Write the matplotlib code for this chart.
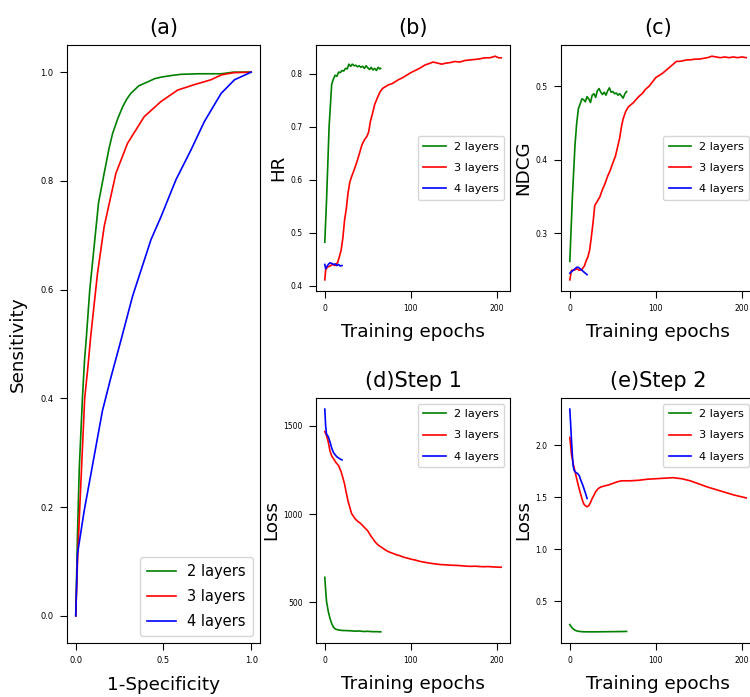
import numpy as np
import matplotlib
matplotlib.use('Agg')
import matplotlib.pyplot as plt

labels = ['2 layers', '3 layers', '4 layers']
colors = ['g', 'r', 'b']

# (a) ROC curves
fpr_2 = [0, 0.01, 0.02, 0.038, 0.05, 0.06, 0.08, 0.105, 0.13, 0.162, 0.19, 0.21, 0.24, 0.267, 0.29, 0.314, 0.36, 0.41, 0.45, 0.49, 0.55, 0.6, 0.7, 0.83, 0.9, 1.0]
tpr_2 = [0, 0.15, 0.27, 0.4, 0.47, 0.51, 0.6, 0.68, 0.76, 0.814, 0.86, 0.887, 0.915, 0.936, 0.95, 0.961, 0.975, 0.982, 0.988, 0.991, 0.994, 0.996, 0.997, 0.997, 1.0, 1.0]
fpr_3 = [0, 0.01, 0.023, 0.051, 0.07, 0.084, 0.124, 0.162, 0.229, 0.295, 0.39, 0.486, 0.581, 0.676, 0.771, 0.83, 0.9, 1.0]
tpr_3 = [0, 0.1, 0.2, 0.4, 0.46, 0.51, 0.63, 0.716, 0.814, 0.869, 0.918, 0.946, 0.967, 0.977, 0.986, 0.995, 0.999, 1.0]
fpr_4 = [0, 0.01, 0.048, 0.086, 0.152, 0.2, 0.262, 0.324, 0.429, 0.486, 0.571, 0.657, 0.733, 0.829, 0.905, 1.0]
tpr_4 = [0, 0.114, 0.193, 0.26, 0.377, 0.438, 0.512, 0.588, 0.692, 0.734, 0.802, 0.857, 0.909, 0.961, 0.986, 1.0]

# (b) HR
ep_hr2 = [0, 2, 5, 8, 10, 12, 14, 16, 18, 20, 22, 24, 26, 28, 30, 32, 34, 36, 38, 40, 42, 44, 46, 48, 50, 52, 54, 56, 58, 60, 62, 64, 65]
hr_2 = [0.482, 0.56, 0.70, 0.78, 0.79, 0.797, 0.795, 0.803, 0.802, 0.806, 0.805, 0.81, 0.809, 0.818, 0.814, 0.818, 0.815, 0.816, 0.813, 0.815, 0.812, 0.814, 0.81, 0.815, 0.811, 0.808, 0.812, 0.807, 0.81, 0.806, 0.812, 0.809, 0.81]
ep_hr3 = [0, 1, 3, 6, 9, 12, 15, 17, 19, 21, 23, 25, 27, 29, 31, 34, 37, 40, 43, 46, 49, 51, 53, 55, 58, 61, 64, 67, 70, 74, 78, 82, 86, 90, 95, 100, 105, 110, 116, 121, 126, 131, 136, 141, 146, 151, 157, 163, 169, 175, 180, 186, 192, 198, 202, 205]
hr_3 = [0.411, 0.43, 0.435, 0.437, 0.44, 0.438, 0.444, 0.455, 0.467, 0.49, 0.524, 0.545, 0.575, 0.595, 0.605, 0.618, 0.632, 0.648, 0.665, 0.675, 0.682, 0.69, 0.71, 0.722, 0.742, 0.754, 0.765, 0.772, 0.775, 0.779, 0.781, 0.785, 0.789, 0.792, 0.797, 0.802, 0.806, 0.81, 0.816, 0.819, 0.822, 0.82, 0.818, 0.82, 0.821, 0.823, 0.822, 0.825, 0.826, 0.827, 0.828, 0.83, 0.83, 0.833, 0.83, 0.83]
ep_hr4 = [0, 1, 2, 4, 6, 8, 10, 12, 14, 16, 18, 20]
hr_4 = [0.44, 0.432, 0.435, 0.44, 0.443, 0.442, 0.44, 0.441, 0.438, 0.44, 0.437, 0.438]

# (c) NDCG
ep_nd2 = [0, 3, 6, 8, 10, 12, 14, 16, 18, 20, 22, 24, 26, 28, 30, 32, 34, 36, 38, 40, 42, 44, 46, 48, 50, 52, 54, 56, 58, 60, 62, 64, 66]
nd_2 = [0.262, 0.35, 0.42, 0.45, 0.47, 0.476, 0.483, 0.482, 0.479, 0.486, 0.483, 0.478, 0.488, 0.49, 0.485, 0.494, 0.497, 0.492, 0.489, 0.492, 0.488, 0.494, 0.498, 0.492, 0.493, 0.49, 0.491, 0.488, 0.49, 0.487, 0.484, 0.49, 0.493]
ep_nd3 = [0, 2, 5, 8, 11, 14, 17, 19, 21, 23, 25, 27, 29, 31, 33, 35, 38, 41, 44, 47, 50, 53, 56, 58, 60, 62, 65, 68, 71, 74, 77, 80, 84, 88, 92, 96, 100, 104, 108, 112, 116, 120, 124, 128, 132, 136, 140, 145, 150, 155, 160, 165, 170, 175, 180, 185, 190, 195, 200, 205]
nd_3 = [0.237, 0.25, 0.25, 0.252, 0.25, 0.251, 0.256, 0.263, 0.268, 0.277, 0.295, 0.315, 0.338, 0.342, 0.346, 0.35, 0.36, 0.368, 0.378, 0.386, 0.396, 0.405, 0.42, 0.43, 0.445, 0.456, 0.466, 0.472, 0.475, 0.478, 0.482, 0.486, 0.49, 0.496, 0.5, 0.506, 0.512, 0.515, 0.518, 0.522, 0.526, 0.53, 0.534, 0.534, 0.535, 0.536, 0.536, 0.537, 0.537, 0.538, 0.539, 0.541, 0.54, 0.539, 0.54, 0.539, 0.54, 0.539, 0.54, 0.539]
ep_nd4 = [0, 2, 4, 6, 8, 10, 12, 14, 16, 18, 20]
nd_4 = [0.246, 0.248, 0.25, 0.252, 0.254, 0.254, 0.252, 0.25, 0.248, 0.246, 0.244]

# (d) Step 1 loss
ep_l1_2 = [0, 1, 2, 4, 6, 8, 10, 12, 14, 17, 20, 25, 30, 35, 40, 45, 50, 55, 60, 65]
loss1_2 = [642, 570, 506, 450, 410, 380, 360, 350, 346, 343, 341, 340, 339, 337, 338, 335, 336, 334, 334, 333]
ep_l1_3 = [0, 2, 4, 6, 8, 10, 13, 16, 19, 21, 23, 25, 27, 29, 31, 35, 38, 41, 44, 47, 50, 53, 56, 59, 62, 65, 68, 71, 75, 79, 83, 87, 91, 95, 100, 105, 110, 115, 120, 125, 130, 135, 140, 145, 150, 155, 160, 165, 170, 175, 180, 185, 190, 195, 200, 205]
loss1_3 = [1468, 1445, 1410, 1358, 1330, 1315, 1292, 1275, 1240, 1206, 1170, 1120, 1074, 1040, 1005, 975, 960, 950, 935, 920, 905, 880, 860, 840, 825, 815, 805, 795, 785, 778, 770, 765, 757, 752, 745, 740, 733, 728, 724, 720, 717, 714, 713, 711, 710, 709, 707, 705, 704, 705, 703, 702, 703, 701, 700, 699]
ep_l1_4 = [0, 1, 2, 4, 6, 8, 10, 12, 14, 16, 18, 20]
loss1_4 = [1595, 1500, 1453, 1440, 1410, 1375, 1350, 1336, 1325, 1318, 1312, 1307]

# (e) Step 2 loss
ep_l2_2 = [0, 2, 4, 6, 8, 10, 15, 20, 30, 40, 50, 60, 66]
loss2_2 = [0.276, 0.25, 0.234, 0.222, 0.215, 0.211, 0.207, 0.206, 0.206, 0.207, 0.208, 0.209, 0.21]
ep_l2_3 = [0, 2, 4, 6, 8, 10, 12, 14, 16, 18, 20, 22, 24, 26, 28, 30, 33, 36, 40, 45, 50, 55, 60, 70, 80, 90, 100, 110, 120, 130, 140, 150, 160, 170, 180, 190, 200, 205]
loss2_3 = [2.077, 1.91, 1.82, 1.75, 1.68, 1.61, 1.55, 1.49, 1.44, 1.42, 1.41, 1.42, 1.45, 1.49, 1.52, 1.555, 1.585, 1.6, 1.61, 1.62, 1.635, 1.65, 1.66, 1.66, 1.665, 1.675, 1.68, 1.685, 1.69, 1.68, 1.66, 1.63, 1.6, 1.575, 1.55, 1.525, 1.505, 1.495]
ep_l2_4 = [0, 1, 2, 3, 4, 5, 7, 9, 11, 13, 15, 17, 19, 20]
loss2_4 = [2.35, 2.2, 2.04, 1.9, 1.8, 1.76, 1.74, 1.73, 1.71, 1.66, 1.62, 1.57, 1.52, 1.49]

fig = plt.figure(figsize=(7.5, 6.97), dpi=100)

tick_fs = 5.5
label_fs = 13.2
title_fs = 15

# (a)
ax = fig.add_axes([0.0893, 0.0775, 0.2573, 0.858])
for x, y, c, l in zip([fpr_2, fpr_3, fpr_4], [tpr_2, tpr_3, tpr_4], colors, labels):
    ax.plot(x, y, c=c, lw=1.2, label=l)
ax.set_xticks([0.0, 0.5, 1.0])
ax.set_yticks([0.0, 0.2, 0.4, 0.6, 0.8, 1.0])
ax.tick_params(labelsize=6, length=4.8, pad=4.8)
ax.set_xlabel('1-Specificity', fontsize=label_fs, labelpad=8)
ax.set_ylabel('Sensitivity', fontsize=label_fs, labelpad=10)
ax.set_title('(a)', fontsize=title_fs, pad=8)
ax.legend(loc='lower right', fontsize=10.5, labelspacing=0.68, borderpad=0.48, handletextpad=0.75)

panels = [
    ([0.4213, 0.5825, 0.2587, 0.3529], [ep_hr2, ep_hr3, ep_hr4], [hr_2, hr_3, hr_4], 'HR', '(b)', 'center right', [0.4, 0.5, 0.6, 0.7, 0.8]),
    ([0.748, 0.5825, 0.2587, 0.3529], [ep_nd2, ep_nd3, ep_nd4], [nd_2, nd_3, nd_4], 'NDCG', '(c)', 'center right', [0.3, 0.4, 0.5]),
    ([0.4213, 0.0775, 0.2587, 0.3515], [ep_l1_2, ep_l1_3, ep_l1_4], [loss1_2, loss1_3, loss1_4], 'Loss', '(d)Step 1', 'upper right', [500, 1000, 1500]),
    ([0.748, 0.0775, 0.2587, 0.3515], [ep_l2_2, ep_l2_3, ep_l2_4], [loss2_2, loss2_3, loss2_4], 'Loss', '(e)Step 2', 'upper right', [0.5, 1.0, 1.5, 2.0]),
]

for pos, xs, ys, ylab, title, loc, yt in panels:
    ax = fig.add_axes(pos)
    for x, y, c, l in zip(xs, ys, colors, labels):
        ax.plot(x, y, c=c, lw=1.2, label=l)
    ax.set_xticks([0, 100, 200])
    ax.set_yticks(yt)
    ax.tick_params(labelsize=tick_fs, length=4.8, pad=4.8)
    ax.set_xlabel('Training epochs', fontsize=label_fs, labelpad=7)
    ax.set_ylabel(ylab, fontsize=label_fs, labelpad=2.5)
    ax.set_title(title, fontsize=title_fs, pad=8)
    ax.legend(loc=loc, fontsize=8.1, labelspacing=1.0, borderpad=0.5, handletextpad=0.7)

plt.savefig('out.png', dpi=100)
